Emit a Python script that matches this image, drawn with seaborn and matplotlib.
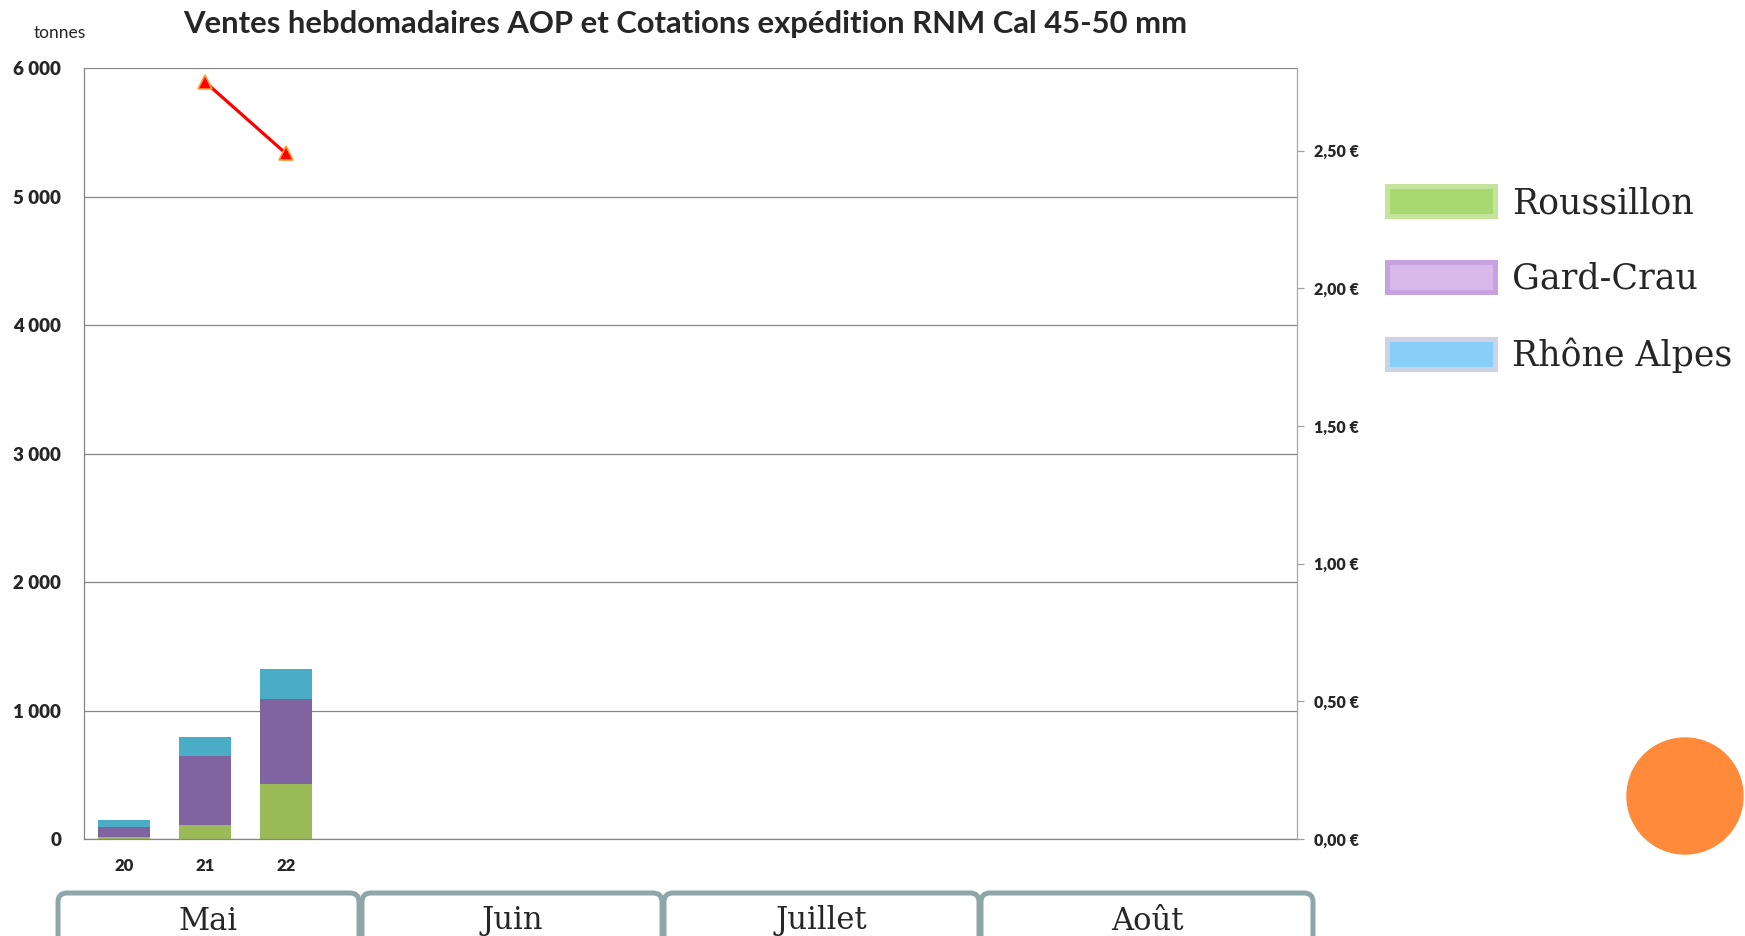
import numpy as np
import pandas as pd
import seaborn as sns
import matplotlib.pyplot as plt
from matplotlib.patches import Patch, FancyBboxPatch, Circle

# semaines affichees sur l'axe (20 a 34), donnees seulement pour 20-22
semaines = [str(s) for s in range(20, 35)]
sem_data = ['20', '21', '22']
regions = ['Roussillon', 'Gard-Crau', 'Rhône Alpes']
roussillon = [15, 110, 430]
gard_crau = [75, 540, 660]
rhone_alpes = [58, 145, 237]

# cotations RNM (axe de droite)
sem_prix = ['21', '22']
prix = [2.75, 2.49]

mois = ['Mai', 'Juin', 'Juillet', 'Août']

bar_colors = ['#9BBB59', '#8064A2', '#4BACC6']
leg_face = ['#A8D870', '#D8B9E9', '#87CEFA']
leg_edge = ['#C3E49A', '#C7A1E0', '#CDD3E4']

sns.set_theme(style='white')
plt.rcParams['font.family'] = ['Lato', 'DejaVu Sans']

fig = plt.figure(figsize=(17.45, 9.36), dpi=100)
ax = fig.add_axes([0.0479, 0.1036, 0.6953, 0.8237])

df = pd.DataFrame({'semaine': sem_data, 'Roussillon': roussillon,
                   'Gard-Crau': gard_crau, 'Rhône Alpes': rhone_alpes})
cum = df[regions].cumsum(axis=1)
# empilement : on dessine le total d'abord puis les sous-totaux par dessus
for reg, col in zip(regions[::-1], bar_colors[::-1]):
    sns.barplot(x=df['semaine'], y=cum[reg], order=semaines, color=col,
                width=0.64, saturation=1, errorbar=None, linewidth=0,
                edgecolor='none', ax=ax)

ax.set_xlim(-0.5, len(semaines) - 0.5)
ax.set_ylim(0, 6000)
yt = np.arange(0, 6001, 1000)
ax.set_yticks(yt, labels=[f"{int(v):,}".replace(',', ' ') for v in yt], fontweight='heavy')
ax.set_xticks(range(len(semaines)),
              labels=[s if s in sem_data else '' for s in semaines], fontweight='heavy')
ax.set_xlabel('')
ax.set_ylabel('')
ax.grid(axis='y', color='#868686', lw=0.9)
ax.set_axisbelow(True)
ax.tick_params(axis='y', length=0, pad=16, labelsize=13.5)
ax.tick_params(axis='x', length=0, pad=14, labelsize=12)
for sp in ['left', 'bottom']:
    ax.spines[sp].set_color('#868686')
    ax.spines[sp].set_linewidth(0.9)
ax.spines['top'].set_visible(False)
ax.spines['right'].set_visible(False)

ax2 = ax.twinx()
pos = [semaines.index(s) for s in sem_prix]
sns.lineplot(x=pos, y=prix, ax=ax2, color='red', lw=2.3, marker='^',
             markersize=10, markerfacecolor='red', markeredgecolor='#FF9A30',
             markeredgewidth=1.2)
ax2.set_ylim(0, 2.8)
pt = np.arange(0, 2.51, 0.5)
ax2.set_yticks(pt, labels=[f"{v:.2f} €".replace('.', ',') for v in pt], fontweight='heavy')
ax2.tick_params(axis='y', length=5, width=0.9, color='#A0A0A0', pad=7, labelsize=11.5)
ax2.spines['right'].set_color('#A6A6A6')
ax2.spines['right'].set_linewidth(0.9)
for sp in ['top', 'left', 'bottom']:
    ax2.spines[sp].set_visible(False)

fig.text(685 / 1745, 1 - 24 / 936, 'Ventes hebdomadaires AOP et Cotations expédition RNM Cal 45-50 mm',
         ha='center', va='center', fontsize=22.3, fontweight='bold')
fig.text(60 / 1745, 1 - 33 / 936, 'tonnes', ha='center', va='center', fontsize=12.5)

handles = [Patch(facecolor=f, edgecolor=e, linewidth=3.6) for f, e in zip(leg_face, leg_edge)]
fig.legend(handles, regions, loc='upper left', bbox_to_anchor=(1387 / 1745, 1 - 186 / 936),
           frameon=False, handlelength=3.1, handleheight=0.95, handletextpad=0.5,
           labelspacing=1.2, borderpad=0, borderaxespad=0,
           prop={'family': 'DejaVu Serif', 'size': 25})

# decor : onglets des mois et pastille orange, en pixels
deco = fig.add_axes([0, 0, 1, 1])
deco.set_xlim(0, 1745)
deco.set_ylim(936, 0)
deco.axis('off')
mois_x = [(58, 359), (362, 662), (664, 979), (981, 1313)]
for m, (x0, x1) in zip(mois, mois_x):
    deco.add_patch(FancyBboxPatch((x0, 893), x1 - x0, 80, boxstyle='round,pad=0,rounding_size=9',
                                  facecolor='white', edgecolor='#8FA6A9', lw=3.6))
    deco.text((x0 + x1) / 2, 921, m, ha='center', va='center', fontsize=22, family='DejaVu Serif')
deco.add_patch(Circle((1685, 796), 58, color='#FE8A3A'))

fig.savefig('out.png', dpi=100)
